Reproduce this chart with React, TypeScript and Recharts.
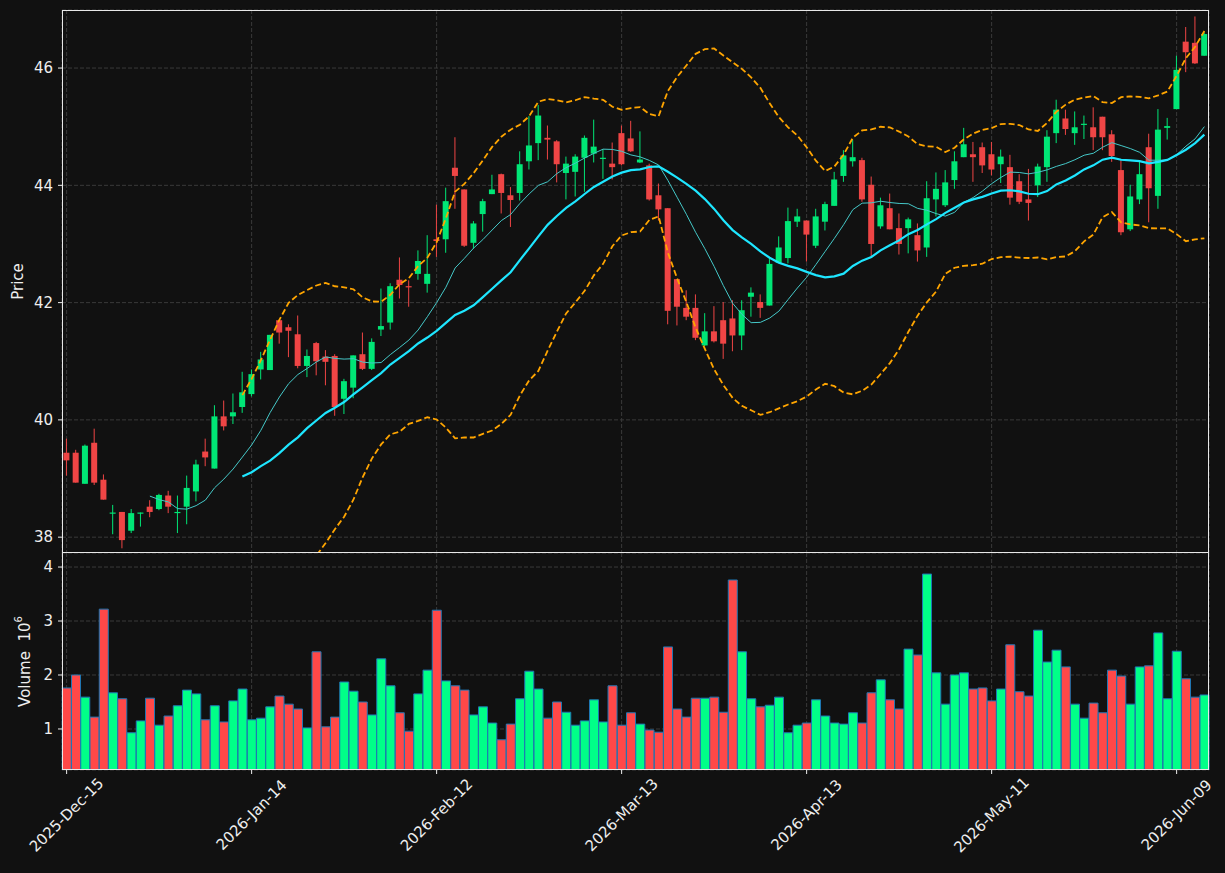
import React from 'react'
import { ComposedChart, Bar, Line, XAxis, YAxis, CartesianGrid, Cell } from 'recharts'

// x ticks (trading-day index -> label)
const TICK_IDX = [0, 20, 40, 60, 80, 100, 120]
const TICK_LABELS = ['2025-Dec-15', '2026-Jan-14', '2026-Feb-12', '2026-Mar-13', '2026-Apr-13', '2026-May-11', '2026-Jun-09']

const OPEN = [
  39.44, 39.44, 38.91, 39.61, 38.98, 38.4, 38.43, 38.11, 38.4, 38.52,
  38.48, 38.71, 38.41, 38.52, 38.78, 39.46, 39.17, 40.06, 40.06, 40.22,
  40.44, 40.86, 40.85, 41.7, 41.58, 41.46, 40.92, 41.31, 41.08, 41.09,
  40.36, 40.55, 41.12, 40.87, 41.54, 41.66, 42.39, 42.28, 42.49, 42.32,
  43.08, 43.08, 44.3, 43.93, 43.02, 43.51, 43.85, 44.19, 43.83, 43.87,
  44.41, 44.72, 44.81, 44.75, 44.21, 44.23, 44.47, 44.54, 44.45, 44.37,
  44.89, 44.8, 44.39, 44.34, 43.83, 43.61, 42.4, 41.91, 41.91, 41.27,
  41.51, 41.7, 41.73, 41.44, 42.1, 42.01, 41.95, 42.68, 42.76, 43.38,
  43.4, 42.97, 43.38, 43.65, 44.16, 44.41, 44.43, 44.01, 43.3, 43.61,
  43.27, 43.27, 43.15, 42.94, 43.76, 43.66, 44.09, 44.48, 44.53, 44.65,
  44.53, 44.36, 44.31, 44.07, 43.76, 44.0, 44.31, 44.89, 45.14, 44.89,
  45.03, 44.99, 45.17, 44.87, 44.26, 43.25, 43.76, 44.65, 43.82, 44.98,
  45.3, 46.45, 46.43, 46.21,
]
const HIGH = [
  39.68, 39.49, 39.58, 39.85, 39.07, 38.55, 38.43, 38.48, 38.42, 38.63,
  38.74, 38.79, 38.71, 39.05, 39.32, 39.68, 40.25, 40.33, 40.45, 40.82,
  40.86, 41.16, 41.45, 41.71, 41.63, 41.78, 41.2, 41.33, 41.19, 41.12,
  40.7, 41.1, 41.49, 41.39, 42.24, 42.33, 42.77, 42.38, 42.89, 43.15,
  43.67, 43.96, 44.82, 43.93, 43.39, 43.77, 44.18, 44.2, 43.97, 44.58,
  45.18, 45.37, 45.02, 44.77, 44.49, 44.53, 44.85, 45.12, 44.62, 44.73,
  45.02, 45.1, 44.92, 44.37, 44.03, 43.61, 42.4, 42.21, 42.14, 41.82,
  41.94, 42.01, 42.04, 42.04, 42.26, 42.14, 42.75, 43.13, 43.62, 43.6,
  43.4, 43.6, 43.72, 44.23, 44.6, 44.78, 44.47, 44.15, 43.79, 43.86,
  43.52, 43.45, 43.35, 44.07, 44.22, 44.26, 44.58, 44.98, 44.74, 44.73,
  44.74, 44.61, 44.52, 44.19, 44.28, 44.37, 44.94, 45.46, 45.29, 45.26,
  45.19, 45.33, 45.17, 44.94, 44.43, 44.01, 44.4, 44.88, 45.3, 45.15,
  46.21, 46.7, 46.88, 46.61,
]
const LOW = [
  39.05, 38.93, 38.91, 38.89, 38.64, 38.05, 37.81, 38.07, 38.18, 38.34,
  38.46, 38.41, 38.07, 38.22, 38.61, 39.21, 39.17, 39.82, 39.93, 40.12,
  40.4, 40.69, 40.85, 41.3, 41.07, 40.88, 40.73, 40.76, 40.59, 40.07,
  40.1, 40.37, 40.85, 40.85, 41.43, 41.54, 42.07, 41.93, 42.39, 42.17,
  42.78, 42.85, 43.6, 42.95, 42.92, 43.21, 43.85, 43.52, 43.29, 43.74,
  44.27, 44.43, 44.44, 44.05, 43.76, 43.81, 43.89, 44.39, 44.11, 44.1,
  44.34, 44.57, 44.38, 43.74, 43.4, 41.63, 41.61, 41.7, 41.36, 41.26,
  41.32, 41.04, 41.17, 41.19, 41.76, 41.74, 41.95, 42.68, 42.67, 43.29,
  42.7, 42.93, 43.23, 43.65, 44.06, 44.32, 43.72, 42.78, 43.26, 43.25,
  42.82, 42.84, 42.7, 42.78, 43.47, 43.63, 43.94, 44.48, 44.06, 44.21,
  44.17, 44.04, 43.67, 43.68, 43.4, 43.8, 44.06, 44.72, 44.86, 44.69,
  44.79, 44.6, 44.6, 44.4, 43.15, 43.22, 43.68, 43.37, 43.6, 44.78,
  45.3, 45.93, 46.07, 46.21,
]
const CLOSE = [
  39.31, 38.93, 39.56, 38.93, 38.64, 38.42, 37.95, 38.41, 38.42, 38.43,
  38.72, 38.52, 38.43, 38.84, 39.24, 39.36, 40.06, 39.89, 40.13, 40.47,
  40.78, 41.03, 41.45, 41.49, 41.52, 40.92, 41.09, 41.0, 40.99, 40.22,
  40.66, 41.1, 40.87, 41.33, 41.6, 42.28, 42.3, 42.26, 42.71, 42.49,
  43.05, 43.73, 44.16, 42.97, 43.35, 43.73, 43.93, 43.87, 43.75, 44.36,
  44.68, 45.19, 44.78, 44.36, 44.37, 44.49, 44.81, 44.66, 44.47, 44.31,
  44.36, 44.58, 44.44, 43.76, 43.59, 41.86, 41.93, 41.76, 41.4, 41.51,
  41.34, 41.3, 41.44, 41.87, 42.17, 41.91, 42.66, 42.94, 43.39, 43.47,
  43.16, 43.47, 43.68, 44.1, 44.51, 44.48, 43.76, 43.0, 43.66, 43.25,
  43.0, 43.42, 42.89, 43.78, 43.94, 44.05, 44.41, 44.7, 44.48, 44.34,
  44.27, 44.49, 43.79, 43.72, 43.7, 44.32, 44.83, 45.29, 44.96, 44.99,
  45.05, 44.82, 44.82, 44.5, 43.2, 43.81, 44.19, 43.95, 44.95, 45.01,
  45.97, 46.27, 46.08, 46.58,
]
// volume, millions
const VOLUME = [
  1.76, 2.0, 1.59, 1.22, 3.22, 1.67, 1.56, 0.93, 1.15, 1.57,
  1.07, 1.24, 1.43, 1.72, 1.65, 1.17, 1.43, 1.13, 1.52, 1.74,
  1.17, 1.2, 1.41, 1.61, 1.46, 1.37, 1.02, 2.43, 1.04, 1.22,
  1.87, 1.7, 1.5, 1.26, 2.3, 1.8, 1.3, 0.96, 1.65, 2.09,
  3.2, 1.89, 1.8, 1.72, 1.26, 1.41, 1.11, 0.8, 1.09, 1.56,
  2.07, 1.74, 1.2, 1.5, 1.31, 1.07, 1.15, 1.54, 1.13, 1.8,
  1.07, 1.3, 1.09, 0.98, 0.94, 2.52, 1.37, 1.22, 1.57, 1.57,
  1.59, 1.31, 3.76, 2.43, 1.56, 1.41, 1.44, 1.59, 0.93, 1.07,
  1.11, 1.54, 1.24, 1.11, 1.09, 1.3, 1.11, 1.67, 1.91, 1.54,
  1.37, 2.48, 2.37, 3.87, 2.04, 1.46, 2.0, 2.04, 1.74, 1.76,
  1.52, 1.74, 2.56, 1.69, 1.61, 2.83, 2.24, 2.46, 2.15, 1.46,
  1.2, 1.48, 1.3, 2.09, 1.98, 1.46, 2.15, 2.17, 2.78, 1.56,
  2.44, 1.93, 1.59, 1.63,
]

const UP = '#00e676'
const DOWN = '#ef4545'
const VOL_UP = '#00ff88'
const VOL_DOWN = '#ff4848'
const GRID = '#3a3a3a'
const TEXT = '#eeeeee'
const FONT = 'DejaVu Sans'
const FS = 15

// moving average / bollinger from the closes above
function sma(n: number, i: number) {
  if (i < n - 1) return null
  const w = CLOSE.slice(i - n + 1, i + 1)
  return w.reduce((a, b) => a + b, 0) / n
}
function sd(n: number, i: number) {
  if (i < n - 1) return null
  const w = CLOSE.slice(i - n + 1, i + 1)
  const m = w.reduce((a, b) => a + b, 0) / n
  return Math.sqrt(w.reduce((a, b) => a + (b - m) ** 2, 0) / (n - 1))
}

const rows = CLOSE.map((c, i) => {
  const m20 = sma(20, i)
  const s20 = sd(20, i)
  return {
    idx: i,
    open: OPEN[i],
    high: HIGH[i],
    low: LOW[i],
    close: c,
    range: [LOW[i], HIGH[i]],
    vol: VOLUME[i],
    ma10: sma(10, i),
    ma20: m20,
    bbUp: m20 == null || s20 == null ? null : m20 + 2 * s20,
    bbLo: m20 == null || s20 == null ? null : m20 - 2 * s20,
  }
})

const Candle = (props: any) => {
  const { x, y, width, height, payload } = props
  if (x == null || y == null) return null
  const { open, close, high, low } = payload
  const color = close >= open ? UP : DOWN
  const top = Math.min(y, y + height)
  const h = Math.abs(height)
  const span = high - low || 1
  const toY = (v: number) => top + ((high - v) / span) * h
  const cx = x + width / 2
  const b1 = toY(Math.max(open, close))
  const b2 = toY(Math.min(open, close))
  const bw = 6
  return (
    <g>
      <line x1={cx} x2={cx} y1={top} y2={top + h} stroke={color} strokeWidth={1} />
      <rect x={cx - bw / 2} y={b1} width={bw} height={Math.max(b2 - b1, 1)} fill={color} />
    </g>
  )
}

const DateTick = (props: any) => {
  const { x, y, payload } = props
  const k = TICK_IDX.indexOf(payload.value)
  const cy = y + 39
  return (
    <text x={x} y={cy} transform={`rotate(-45, ${x}, ${cy})`} textAnchor="middle" dominantBaseline="central" fill={TEXT} fontSize={FS} fontFamily={FONT}>
      {k >= 0 ? TICK_LABELS[k] : ''}
    </text>
  )
}

const PriceLabel = (props: any) => {
  const vb = props.viewBox || {}
  const cy = (vb.y ?? 10) + (vb.height ?? 543) / 2
  return (
    <text x={18} y={cy} transform={`rotate(-90, 18, ${cy})`} textAnchor="middle" dominantBaseline="central" fill={TEXT} fontSize={FS} fontFamily={FONT}>
      Price
    </text>
  )
}

const VolumeLabel = (props: any) => {
  const vb = props.viewBox || {}
  const cy = (vb.y ?? 553) + (vb.height ?? 217) / 2
  return (
    <text x={25} y={cy} transform={`rotate(-90, 25, ${cy})`} textAnchor="middle" dominantBaseline="central" fill={TEXT} fontSize={FS} fontFamily={FONT}>
      Volume{'\u00a0\u00a0'}10<tspan dy={-7} fontSize={10}>6</tspan>
    </text>
  )
}

const axisTick = { fill: TEXT, fontSize: FS, fontFamily: FONT }

export default function App() {
  return (
    <div style={{ position: 'absolute', left: 0, top: 0, width: 1225, height: 873, background: '#111111', fontFamily: "'DejaVu Sans', sans-serif", overflow: 'hidden' }}>
      <div style={{ position: 'absolute', left: 0, top: 0 }}>
        <ComposedChart width={1225} height={553} data={rows} margin={{ top: 10, right: 16, bottom: 0, left: 12 }}>
          <CartesianGrid stroke={GRID} strokeDasharray="4 2" />
          <XAxis dataKey="idx" type="category" ticks={TICK_IDX} interval={0} hide />
          <YAxis
            width={50}
            domain={[37.73, 46.99]}
            allowDataOverflow
            ticks={[38, 40, 42, 44, 46]}
            tick={axisTick}
            tickSize={4}
            tickMargin={5}
            axisLine={false}
            tickLine={{ stroke: TEXT }}
            label={<PriceLabel />}
          />
          <Bar dataKey="range" shape={<Candle />} isAnimationActive={false} />
          <Line dataKey="bbUp" stroke="#ffa500" strokeWidth={1.8} strokeDasharray="6 3" dot={false} isAnimationActive={false} />
          <Line dataKey="bbLo" stroke="#ffa500" strokeWidth={1.8} strokeDasharray="6 3" dot={false} isAnimationActive={false} />
          <Line dataKey="ma10" stroke="#45c8c8" strokeWidth={1} dot={false} isAnimationActive={false} />
          <Line dataKey="ma20" stroke="#1ee6ff" strokeWidth={2.2} dot={false} isAnimationActive={false} />
        </ComposedChart>
      </div>
      <div style={{ position: 'absolute', left: 0, top: 553 }}>
        <ComposedChart width={1225} height={320} data={rows} margin={{ top: 0, right: 16, bottom: 0, left: 12 }} barCategoryGap="3%">
          <CartesianGrid stroke={GRID} strokeDasharray="4 2" />
          <XAxis
            dataKey="idx"
            type="category"
            ticks={TICK_IDX}
            interval={0}
            height={103}
            tick={<DateTick />}
            tickSize={4}
            axisLine={false}
            tickLine={{ stroke: TEXT }}
          />
          <YAxis
            width={50}
            domain={[0.24, 4.26]}
            allowDataOverflow
            ticks={[1, 2, 3, 4]}
            tick={axisTick}
            tickSize={4}
            tickMargin={5}
            axisLine={false}
            tickLine={{ stroke: TEXT }}
            label={<VolumeLabel />}
          />
          <Bar dataKey="vol" stroke="#1f77b4" strokeWidth={1} isAnimationActive={false}>
            {rows.map((r) => (
              <Cell key={r.idx} fill={r.close >= r.open ? VOL_UP : VOL_DOWN} />
            ))}
          </Bar>
        </ComposedChart>
      </div>
      <div style={{ position: 'absolute', left: 62, top: 10, width: 1147, height: 543, boxSizing: 'border-box', border: '1px solid #e8e8e8', pointerEvents: 'none' }} />
      <div style={{ position: 'absolute', left: 62, top: 552, width: 1147, height: 218, boxSizing: 'border-box', border: '1px solid #e8e8e8', pointerEvents: 'none' }} />
    </div>
  )
}
